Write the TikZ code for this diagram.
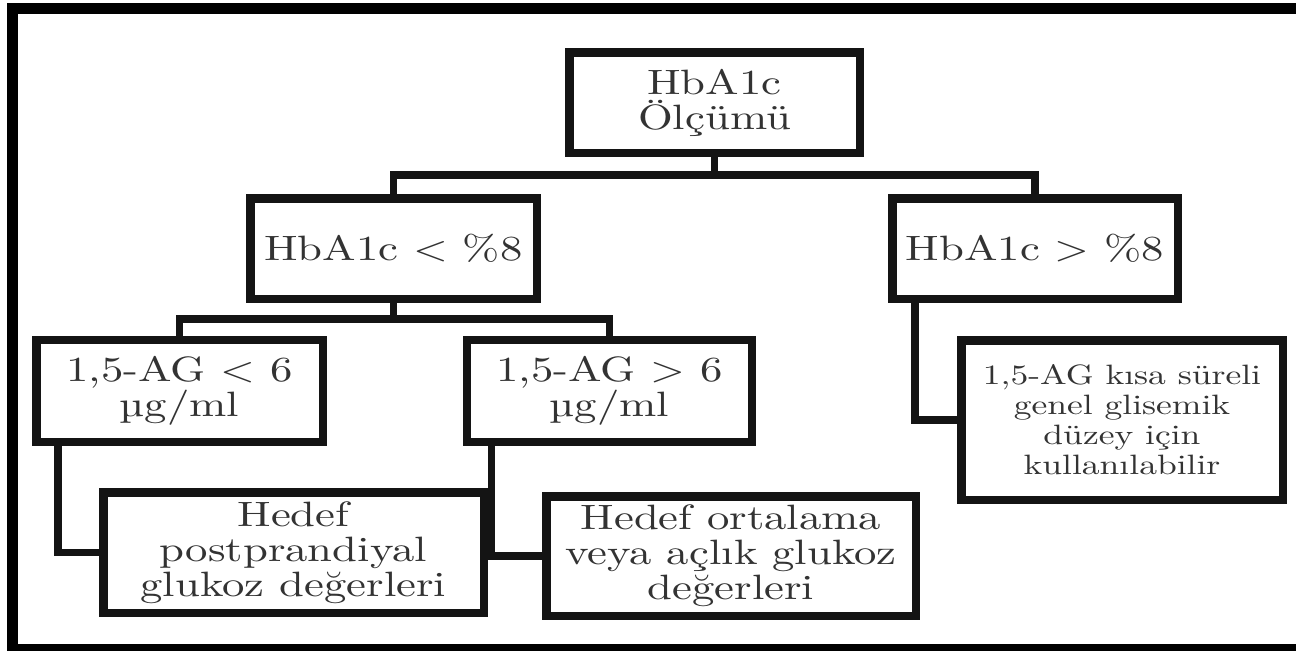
\documentclass[tikz,border=0pt]{standalone}
\usepackage{fontspec}
\setmainfont{lmroman10-regular.otf}[FakeStretch=1.27]
\begin{document}
\begin{tikzpicture}[x=0.5pt,y=-0.5pt,
  box/.style={draw=black!92, line width=4.25pt, fill=white, inner sep=0pt, align=center, text=black!80},
  conn/.style={draw=black!92, line width=3.75pt, line join=miter},
  big/.style={font=\fontsize{17.6}{17.5}\selectfont},
  small/.style={font=\fontsize{14}{15}\selectfont}]
\useasboundingbox (0,0) rectangle (1296,650);
\begin{scope}
\clip (0,0) rectangle (1296,650);
\draw[line width=5.5pt, black] (12.5,8.5) rectangle (1320,649.5);
\end{scope}
% nodes
\node[box,big,minimum width=145.25pt,minimum height=50.25pt] (root) at (714.5,102.5) {HbA1c\\Ölçümü};
\node[box,big,minimum width=143.25pt,minimum height=50.25pt] (lt) at (393.5,248.5) {HbA1c < \%8};
\node[box,big,minimum width=142.75pt,minimum height=50.25pt] (gt) at (1035,248.5) {HbA1c > \%8};
\node[box,big,minimum width=143.25pt,minimum height=51pt] (ag1) at (179.5,391) {1,5-AG < 6\\µg/ml};
\node[box,big,minimum width=142.5pt,minimum height=51pt] (ag2) at (609.5,391) {1,5-AG > 6\\µg/ml};
\node[box,big,minimum width=190.25pt,minimum height=60.25pt] (h1) at (293.5,552.5) {Hedef\\postprandiyal\\glukoz değerleri};
\node[box,big,minimum width=184.75pt,minimum height=59.75pt] (h2) at (731,556) {Hedef ortalama\\veya açlık glukoz\\değerleri};
\node[box,small,minimum width=160.75pt,minimum height=79.75pt] (ks) at (1122,420) {1,5-AG kısa süreli\\genel glisemik\\düzey için\\kullanılabilir};
% connectors
\coordinate (j1) at (714.5,175);
\draw[conn] (root.south) -- (j1);
\draw[conn] (lt.north) |- (j1) -| (gt.north);
\coordinate (j2) at (393.5,319);
\draw[conn] (lt.south) -- (j2);
\draw[conn] (ag1.north) |- (j2) -| (ag2.north);
\draw[conn] ([xshift=12.9pt]ag1.south west) |- (h1.west);
\draw[conn] ([xshift=14.4pt]ag2.south west) |- (h2.west);
\draw[conn] ([xshift=13.4pt]gt.south west) |- (ks.west);
\end{tikzpicture}
\end{document}
